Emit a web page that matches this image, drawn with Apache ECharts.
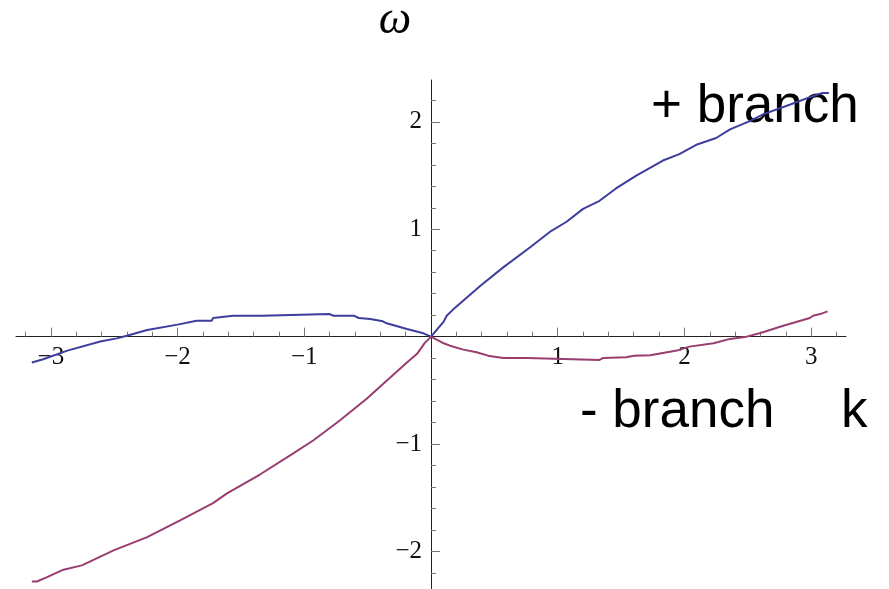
<!DOCTYPE html>
<html>
<head>
<meta charset="utf-8">
<title>Dispersion branches</title>
<script src="https://cdn.jsdelivr.net/npm/echarts@6/dist/echarts.min.js"></script>
<style>
  html, body { margin: 0; padding: 0; background: #ffffff; }
  #chart { width: 889px; height: 589px; }
</style>
</head>
<body>
<div id="chart"></div>
<script>
// + branch: wave number k and frequency omega
const plusK = [-3.15, -3.06, -2.87, -2.61, -2.48, -2.40, -2.24, -2.00, -1.85, -1.73, -1.72, -1.56,
  -1.335, -1.32, -0.80, -0.77, -0.61, -0.57, -0.48, -0.38, -0.35, -0.19, -0.06, 0.0,
  0.10, 0.124, 0.19, 0.39, 0.57, 0.78, 0.95, 1.07, 1.20, 1.33, 1.46, 1.62, 1.83, 1.96,
  2.10, 2.25, 2.36, 2.52, 2.62, 2.83, 2.99, 3.09, 3.14];
const plusW = [-0.24, -0.21, -0.13, -0.045, -0.016, 0.009, 0.062, 0.112, 0.149, 0.149, 0.174, 0.195,
  0.195, 0.21, 0.21, 0.195, 0.195, 0.174, 0.164, 0.143, 0.124, 0.071, 0.031, 0.0,
  0.14, 0.195, 0.27, 0.474, 0.645, 0.83, 0.986, 1.07, 1.19, 1.265, 1.38, 1.50, 1.64, 1.70,
  1.79, 1.85, 1.93, 2.01, 2.07, 2.16, 2.23, 2.27, 2.27];

// - branch
const minusK = [-3.15, -3.11, -3.03, -2.90, -2.755, -2.505, -2.24, -1.98, -1.72, -1.61, -1.35, -1.09,
  -0.93, -0.72, -0.51, -0.35, -0.19, -0.11, -0.05, 0.0,
  0.10, 0.15, 0.255, 0.36, 0.45, 0.57, 0.755, 0.77, 1.33, 1.36, 1.54, 1.60, 1.73, 1.94,
  2.04, 2.23, 2.36, 2.49, 2.60, 2.78, 2.99, 3.015, 3.07, 3.13];
const minusW = [-2.28, -2.28, -2.24, -2.17, -2.13, -1.99, -1.867, -1.71, -1.55, -1.46, -1.284, -1.09,
  -0.967, -0.781, -0.58, -0.41, -0.24, -0.16, -0.06, 0.0,
  -0.062, -0.084, -0.121, -0.146, -0.177, -0.198, -0.20, -0.217, -0.217, -0.198, -0.192, -0.177, -0.174, -0.13,
  -0.093, -0.062, -0.021, 0.0, 0.034, 0.102, 0.174, 0.195, 0.21, 0.235];

// axis ticks (0 is left unlabelled where the axes cross)
const xMajorTicks = [-3, -2, -1, 1, 2, 3];
const yMajorTicks = [-2, -1, 1, 2];
const xMinorTicks = [-3.2, -2.8, -2.6, -2.4, -2.2, -1.8, -1.6, -1.4, -1.2, -0.8, -0.6, -0.4, -0.2,
  0.2, 0.4, 0.6, 0.8, 1.2, 1.4, 1.6, 1.8, 2.2, 2.4, 2.6, 2.8, 3.2];
const yMinorTicks = [-2.2, -1.8, -1.6, -1.4, -1.2, -0.8, -0.6, -0.4, -0.2,
  0.2, 0.4, 0.6, 0.8, 1.2, 1.4, 1.6, 1.8, 2.2];

const xRange = [-3.275, 3.275];
const yRange = [-2.35, 2.39];

const zip = (a, b) => a.map((v, i) => [v, b[i]]);
const fmt = v => (v < 0 ? '\u2212' + (-v) : String(v));

const labelFont = { fontFamily: 'Liberation Serif', fontSize: 25, color: '#111' };
const axisColor = '#222';
const tickColor = '#777';

// Each direction gets two stacked axes: one carrying the line, major ticks
// and labels, one carrying only the short minor ticks.
function makeAxis(range, major, minor, isMajor, labelMargin, position) {
  return {
    type: 'value',
    position: position,
    offset: 0,
    min: range[0],
    max: range[1],
    axisLine: { show: isMajor, onZero: false, lineStyle: { color: axisColor, width: 1 } },
    axisTick: {
      show: true, inside: true,
      length: isMajor ? 9 : 5,
      customValues: isMajor ? major : minor,
      lineStyle: { color: tickColor, width: 1 }
    },
    axisLabel: isMajor
      ? Object.assign({ show: true, margin: labelMargin, customValues: major, formatter: fmt }, labelFont)
      : { show: false },
    splitLine: { show: false },
    minorTick: { show: false }
  };
}

const xAxes = [
  makeAxis(xRange, xMajorTicks, xMinorTicks, true, 8, 'bottom'),
  makeAxis(xRange, xMajorTicks, xMinorTicks, false, 0, 'bottom')
];
const yAxes = [
  makeAxis(yRange, yMajorTicks, yMinorTicks, true, 9, 'left'),
  makeAxis(yRange, yMajorTicks, yMinorTicks, false, 0, 'left')
];

const chart = echarts.init(document.getElementById('chart'), null, { renderer: 'canvas' });

const option = {
  backgroundColor: '#ffffff',
  animation: false,
  grid: { left: 16, right: 43, top: 80, bottom: 0, containLabel: false, outerBoundsMode: 'none' },
  xAxis: xAxes,
  yAxis: yAxes,
  series: [
    {
      name: '+ branch',
      type: 'line',
      xAxisIndex: 0, yAxisIndex: 0,
      data: zip(plusK, plusW),
      showSymbol: false,
      lineStyle: { color: '#3d3d9e', width: 2 },
      z: 3
    },
    {
      name: '- branch',
      type: 'line',
      xAxisIndex: 0, yAxisIndex: 0,
      data: zip(minusK, minusW),
      showSymbol: false,
      lineStyle: { color: '#993d71', width: 2 },
      z: 3
    }
  ],
  graphic: [
    {
      type: 'text', x: 395, y: 21, z: 1,
      style: { text: '\u03c9', font: 'italic 46px "Liberation Serif"', fill: '#000', textAlign: 'center', textVerticalAlign: 'middle' }
    },
    {
      type: 'text', x: 651, y: 107, z: 1,
      style: { text: '+ branch', font: '53px "Liberation Sans"', fill: '#000', textAlign: 'left', textVerticalAlign: 'middle' }
    },
    {
      type: 'text', x: 580, y: 412, z: 1,
      style: { text: '- branch', font: '53px "Liberation Sans"', fill: '#000', textAlign: 'left', textVerticalAlign: 'middle' }
    },
    {
      type: 'text', x: 841, y: 412, z: 1,
      style: { text: 'k', font: '53px "Liberation Sans"', fill: '#000', textAlign: 'left', textVerticalAlign: 'middle' }
    }
  ]
};
chart.setOption(option);

// Move both axes so they cross at the origin: the offsets come from the
// scales' own pixel positions of 0 and of the grid edges.
const x0 = chart.convertToPixel({ xAxisIndex: 0 }, 0);
const xLeft = chart.convertToPixel({ xAxisIndex: 0 }, xRange[0]);
const y0 = chart.convertToPixel({ yAxisIndex: 0 }, 0);
const yBottom = chart.convertToPixel({ yAxisIndex: 0 }, yRange[0]);
const xOffset = -(yBottom - y0);
const yOffset = -(x0 - xLeft);
chart.setOption({
  xAxis: [{ offset: xOffset }, { offset: xOffset }],
  yAxis: [{ offset: yOffset }, { offset: yOffset }]
});
</script>
</body>
</html>
